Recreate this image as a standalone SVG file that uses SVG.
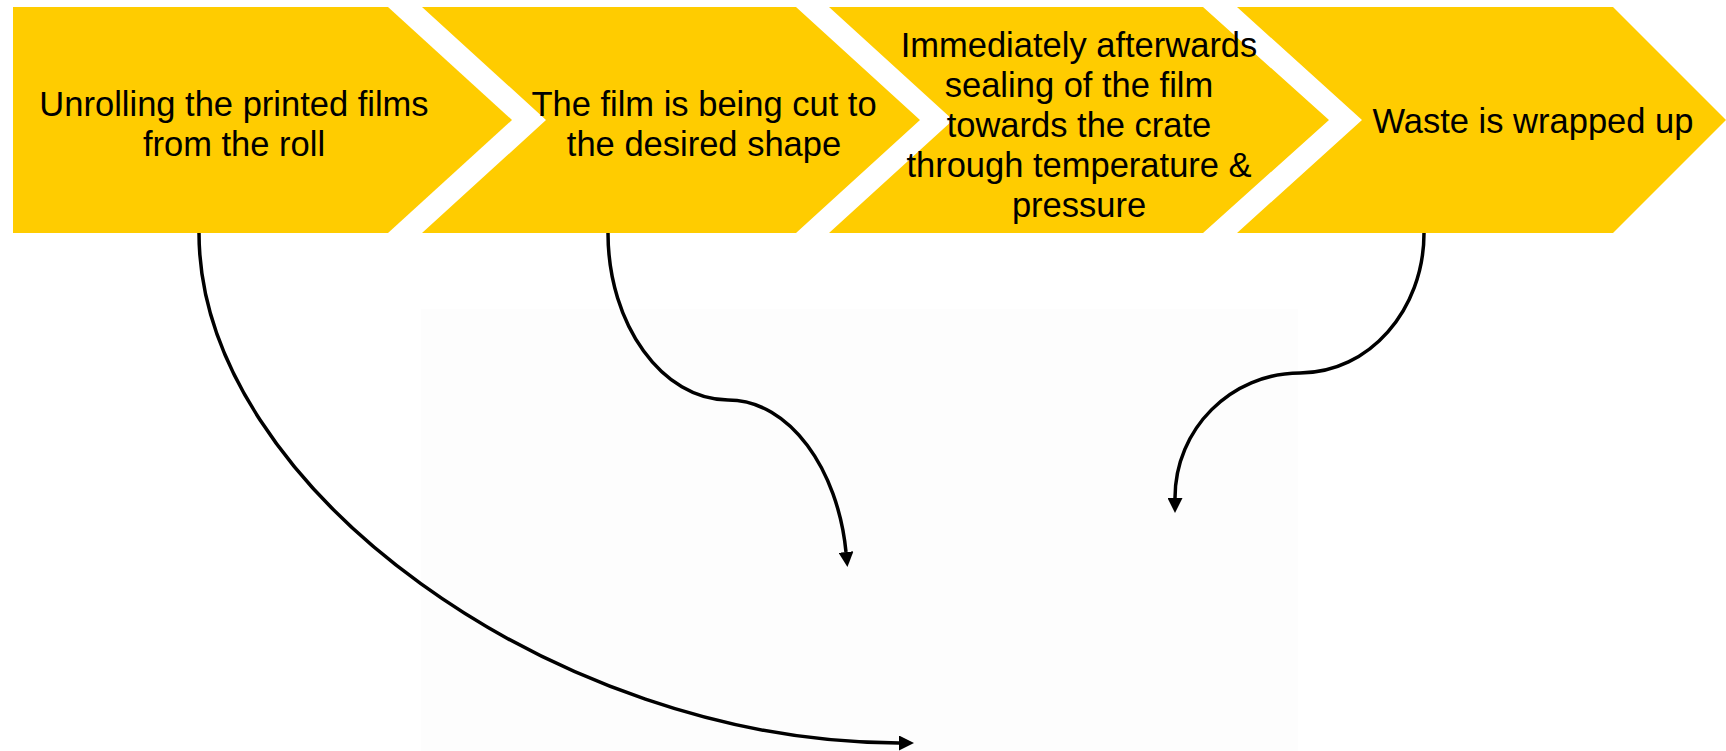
<svg xmlns="http://www.w3.org/2000/svg" width="1726" height="751" viewBox="0 0 1726 751">
  <style>
    .chev { fill: #FFCC00; stroke: none; }
    .lbl { font-family: "Liberation Sans", Arial, sans-serif; font-size: 34.5px; fill: #000000; text-anchor: middle; }
    .conn { fill: none; stroke: #000000; stroke-width: 3.5; }
  </style>
  <defs>
    <marker id="arrow" markerUnits="userSpaceOnUse" markerWidth="15" markerHeight="15" refX="0" refY="7.5" orient="auto">
      <path d="M0,0 L15,7.5 L0,15 Z" fill="#000000"/>
    </marker>
  </defs>
  <rect x="0" y="0" width="1726" height="751" fill="#FFFFFF"/>
  <rect x="421" y="309" width="877" height="442" fill="#FDFDFD"/>

  <g id="node4">
    <polygon class="chev" points="1237,7 1613,7 1726,120 1613,233 1237,233 1362,120"/>
    <text class="lbl" x="1533" y="133">Waste is wrapped up</text>
  </g>
  <g id="node3">
    <polygon class="chev" points="829,7 1203,7 1329,120 1203,233 829,233 953,120"/>
    <text class="lbl" x="1079" y="57">Immediately afterwards</text>
    <text class="lbl" x="1079" y="97">sealing of the film</text>
    <text class="lbl" x="1079" y="137">towards the crate</text>
    <text class="lbl" x="1079" y="177">through temperature &amp;</text>
    <text class="lbl" x="1079" y="217">pressure</text>
  </g>
  <g id="node2">
    <polygon class="chev" points="422,7 796,7 920,120 796,233 422,233 546,120"/>
    <text class="lbl" x="704" y="116">The film is being cut to</text>
    <text class="lbl" x="704" y="156">the desired shape</text>
  </g>
  <g id="node1">
    <polygon class="chev" points="13,7 388,7 512,120 388,233 13,233"/>
    <text class="lbl" x="234" y="116">Unrolling the printed films</text>
    <text class="lbl" x="234" y="156">from the roll</text>
  </g>

  <g id="connectors">
    <path class="conn" d="M199,233 C199,488 557,743 899,743" marker-end="url(#arrow)"/>
    <path class="conn" d="M608,233 C608,325 663,400 728,400 C790,400 838,470 846,552" marker-end="url(#arrow)"/>
    <path class="conn" d="M1424,233 C1424,310 1369,373 1300,373 C1231,373 1175,429 1175,498" marker-end="url(#arrow)"/>
  </g>
</svg>
